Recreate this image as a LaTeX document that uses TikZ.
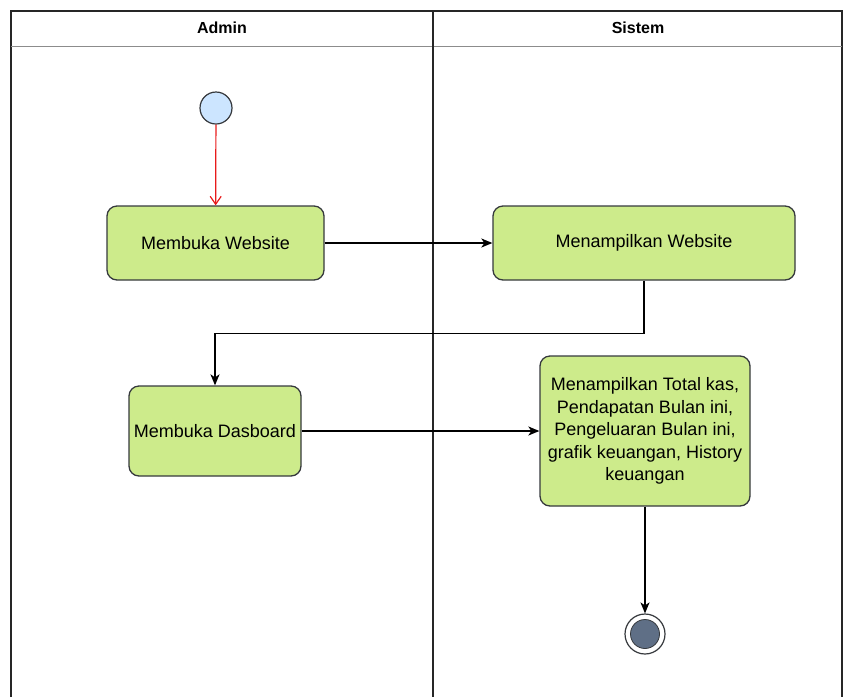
\documentclass[tikz,border=0pt]{standalone}
\usepackage{fontspec}
\setmainfont{Liberation Sans}
\usetikzlibrary{positioning, arrows.meta, calc}

\definecolor{actgreen}{HTML}{CDEB8B}
\definecolor{edgegray}{HTML}{36393D}
\definecolor{startblue}{HTML}{CCE5FF}
\definecolor{endslate}{HTML}{5F6F86}
\definecolor{flowred}{HTML}{E81A1A}

\begin{document}
\begin{tikzpicture}[x=1pt, y=-1pt,
    lane/.style={line width=1.6pt, draw=black!85},
    lanetitle/.style={font=\fontsize{16}{19}\selectfont\bfseries},
    act/.style={draw=edgegray, line width=1.3pt, fill=actgreen, rounded corners=10pt,
        align=center, inner sep=4pt, font=\fontsize{18}{22.5}\selectfont},
    start/.style={circle, draw=edgegray, line width=1.2pt, fill=startblue, minimum size=32pt, inner sep=0pt},
    finish/.style={circle, draw=edgegray, line width=1.2pt, fill=white, minimum size=40pt, inner sep=0pt},
    flow/.style={line width=1.5pt, -{Stealth[length=11pt, width=9pt, inset=3pt]}},
    redflow/.style={line width=1.2pt, draw=flowred, -{Straight Barb[length=8pt, width=11pt]}}
]
\useasboundingbox (0,0) rectangle (843,697);

% swimlanes
\draw[lane] (11,697) -- (11,11) -- (842,11) -- (842,697);
\draw[line width=1pt, draw=black!45] (11,46) -- (842,46);
\draw[lane] (433,11) -- (433,697);
\node[lanetitle] (admin) at (222,28) {Admin};
\node[lanetitle] (sistem) at (638,28) {Sistem};

% activities
\node[start] (mulai) at (216,108) {};
\node[act, minimum width=217pt, minimum height=74pt] (bukaweb) at (215.5,243) {Membuka Website};
\node[act, minimum width=302pt, minimum height=74pt] (tampilweb) at (644,243) {Menampilkan Website};
\node[act, minimum width=172pt, minimum height=90pt] (bukadash) at (215,431) {Membuka Dasboard};
\node[act, minimum width=210pt, minimum height=150pt] (tampilinfo) at (645,431)
    {Menampilkan Total kas,\\ Pendapatan Bulan ini,\\ Pengeluaran Bulan ini,\\ grafik keuangan, History\\ keuangan};
\node[finish] (selesai) at (645,634) {};
\fill[endslate, draw=edgegray, line width=0.8pt] (selesai.center) circle (14.5);

% flows
\draw[redflow] (mulai) -- (bukaweb);
\draw[flow] (bukaweb) -- (tampilweb);
\draw[flow] (tampilweb.south) -- ++(0,53) -| (bukadash.north);
\draw[flow] (bukadash) -- (tampilinfo);
\draw[flow] (tampilinfo) -- (selesai);
\end{tikzpicture}
\end{document}
